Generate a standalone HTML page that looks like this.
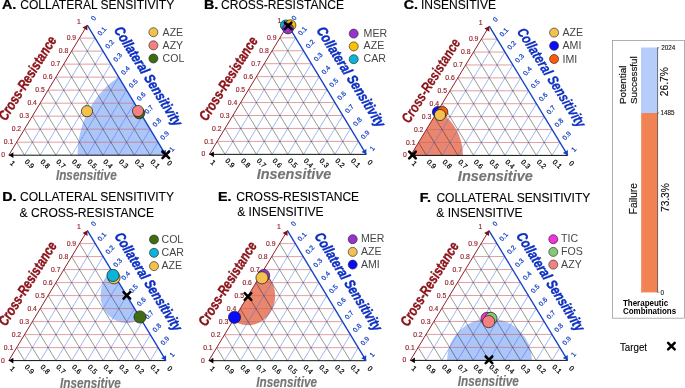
<!DOCTYPE html>
<html lang="en">
<head>
<meta charset="utf-8">
<title>Therapeutic combinations ternary plots</title>
<style>
html,body{margin:0;padding:0;background:#fff;}
body{width:685px;height:388px;overflow:hidden;}
svg{display:block;font-family:'Liberation Sans', Arial, Helvetica, sans-serif;}
</style>
</head>
<body>
<svg width="685" height="388" viewBox="0 0 685 388">
<rect x="0" y="0" width="685" height="388" fill="#ffffff"/>
<g id="panel-A">
<clipPath id="clip0"><path d="M8.8 155.2L87.3 25.1L165.8 155.2Z"/></clipPath>
<ellipse cx="165.8" cy="155.2" rx="88.3" ry="92.5" fill="#acc6fa" clip-path="url(#clip0)"/>
<path d="M16.65 142.19L157.95 142.19M24.5 129.18L150.1 129.18M32.35 116.17L142.25 116.17M40.2 103.16L134.4 103.16M48.05 90.15L126.55 90.15M55.9 77.14L118.7 77.14M63.75 64.13L110.85 64.13M71.6 51.12L103 51.12M79.45 38.11L95.15 38.11" stroke="#c76666" stroke-width="0.62" fill="none"/>
<path d="M24.5 155.2L95.15 38.11M40.2 155.2L103 51.12M55.9 155.2L110.85 64.13M71.6 155.2L118.7 77.14M87.3 155.2L126.55 90.15M103 155.2L134.4 103.16M118.7 155.2L142.25 116.17M134.4 155.2L150.1 129.18M150.1 155.2L157.95 142.19" stroke="#4a74e4" stroke-width="0.52" fill="none"/>
<path d="M150.1 155.2L79.45 38.11M134.4 155.2L71.6 51.12M118.7 155.2L63.75 64.13M103 155.2L55.9 77.14M87.3 155.2L48.05 90.15M71.6 155.2L40.2 103.16M55.9 155.2L32.35 116.17M40.2 155.2L24.5 129.18M24.5 155.2L16.65 142.19" stroke="#1e1e1e" stroke-width="0.46" fill="none"/>
<path d="M8.8 155.2L165.8 155.2" stroke="#000" stroke-width="0.95" fill="none"/>
<path d="M8.8 155.2L87.3 25.1" stroke="#96202a" stroke-width="1.0" fill="none"/>
<path d="M87.3 25.1L165.8 155.2" stroke="#1440c8" stroke-width="1.35" fill="none"/>
<path d="M8.8 155.2L13.4 152.3L13.4 158.1Z" fill="#000"/>
<path d="M87.3 25.1L87.41 30.54L82.44 27.54Z" fill="#7d0f14"/>
<path d="M165.8 155.2L160.94 152.76L165.91 149.76Z" fill="#1440c8"/>
<g font-size="6.5" fill="#96202a" stroke="#96202a" stroke-width="0.15" text-anchor="end"><text transform="translate(4.9 157.1) scale(1.0451 1)">0</text><text transform="translate(13.25 144.49) scale(1.0451 1)">0.1</text><text transform="translate(21.1 131.48) scale(1.0451 1)">0.2</text><text transform="translate(28.95 118.47) scale(1.0451 1)">0.3</text><text transform="translate(36.8 105.46) scale(1.0451 1)">0.4</text><text transform="translate(44.65 92.45) scale(1.0451 1)">0.5</text><text transform="translate(52.5 79.44) scale(1.0451 1)">0.6</text><text transform="translate(60.35 66.43) scale(1.0451 1)">0.7</text><text transform="translate(68.2 53.42) scale(1.0451 1)">0.8</text><text transform="translate(76.05 40.41) scale(1.0451 1)">0.9</text><text transform="translate(80.7 23.5) scale(1.0451 1)">1</text></g>
<g font-size="6.5" fill="#1440c8" stroke="#1440c8" stroke-width="0.22"><text transform="translate(93.9 21.1) scale(1.0451 1) rotate(-48)">0</text><text transform="translate(100.45 36.11) scale(1.0451 1) rotate(-48)">0.1</text><text transform="translate(108.3 49.12) scale(1.0451 1) rotate(-48)">0.2</text><text transform="translate(116.15 62.13) scale(1.0451 1) rotate(-48)">0.3</text><text transform="translate(124 75.14) scale(1.0451 1) rotate(-48)">0.4</text><text transform="translate(131.85 88.15) scale(1.0451 1) rotate(-48)">0.5</text><text transform="translate(139.7 101.16) scale(1.0451 1) rotate(-48)">0.6</text><text transform="translate(147.55 114.17) scale(1.0451 1) rotate(-48)">0.7</text><text transform="translate(155.4 127.18) scale(1.0451 1) rotate(-48)">0.8</text><text transform="translate(163.25 140.19) scale(1.0451 1) rotate(-48)">0.9</text><text transform="translate(172.2 152) scale(1.0451 1) rotate(-48)">1</text></g>
<g font-size="6.9" fill="#000" stroke="#000" stroke-width="0.2"><text transform="translate(166.6 163.6) scale(1.0451 1) rotate(45) skewX(2)">0</text><text transform="translate(149.9 162.2) scale(1.0451 1) rotate(45) skewX(2)">0.1</text><text transform="translate(134.2 162.2) scale(1.0451 1) rotate(45) skewX(2)">0.2</text><text transform="translate(118.5 162.2) scale(1.0451 1) rotate(45) skewX(2)">0.3</text><text transform="translate(102.8 162.2) scale(1.0451 1) rotate(45) skewX(2)">0.4</text><text transform="translate(87.1 162.2) scale(1.0451 1) rotate(45) skewX(2)">0.5</text><text transform="translate(71.4 162.2) scale(1.0451 1) rotate(45) skewX(2)">0.6</text><text transform="translate(55.7 162.2) scale(1.0451 1) rotate(45) skewX(2)">0.7</text><text transform="translate(40 162.2) scale(1.0451 1) rotate(45) skewX(2)">0.8</text><text transform="translate(24.3 162.2) scale(1.0451 1) rotate(45) skewX(2)">0.9</text><text transform="translate(9.4 163.8) scale(1.0451 1) rotate(45) skewX(2)">1</text></g>
<text transform="translate(31.55 80.65) scale(1.0451 1) rotate(-59) scale(0.805 1)" text-anchor="middle" font-size="14.0" font-weight="bold" font-style="italic" fill="#8a1218" stroke="#8a1218" stroke-width="0.4">Cross-Resistance</text>
<text transform="translate(144.05 78.65) scale(1.0451 1) rotate(59) scale(0.825 1)" text-anchor="middle" font-size="14.0" font-weight="bold" font-style="italic" fill="#0c2fc0" stroke="#0c2fc0" stroke-width="0.4">Collateral Sensitivity</text>
<text transform="translate(86.3 179.7) scale(1.0451 1) scale(0.805 1)" text-anchor="middle" font-size="14.0" font-weight="bold" font-style="italic" fill="#757575" stroke="#757575" stroke-width="0.15">Insensitive</text>
<circle cx="139.2" cy="113.2" r="5.6" fill="#3f6b12" stroke="#1c1c1c" stroke-width="0.7"/>
<circle cx="138" cy="111" r="5.6" fill="#f48080" stroke="#1c1c1c" stroke-width="0.7"/>
<circle cx="87" cy="111.2" r="5.6" fill="#f2c14e" stroke="#1c1c1c" stroke-width="0.7"/>
<path d="M162.5 151.5L169.1 158.1M162.5 158.1L169.1 151.5" stroke="#000" stroke-width="2.6" stroke-linecap="round" fill="none"/>
<circle cx="153.4" cy="32.2" r="4.5" fill="#f2c14e" stroke="#2a2a2a" stroke-width="0.65"/>
<text transform="translate(162.6 35.8) scale(1.0451 1)" font-size="10.1" fill="#454545">AZE</text>
<circle cx="153.4" cy="45.35" r="4.5" fill="#f48080" stroke="#2a2a2a" stroke-width="0.65"/>
<text transform="translate(162.6 48.95) scale(1.0451 1)" font-size="10.1" fill="#454545">AZY</text>
<circle cx="153.4" cy="58.5" r="4.5" fill="#3f6b12" stroke="#2a2a2a" stroke-width="0.65"/>
<text transform="translate(162.6 62.1) scale(1.0451 1)" font-size="10.1" fill="#454545">COL</text>
<text transform="translate(2 9.3) scale(1.2 1)" font-size="11.9" fill="#000" stroke="#000" stroke-width="0.25" font-weight="bold">A.</text>
<text x="20.2" y="9.3" font-size="12.05" fill="#000" stroke="#000" stroke-width="0.1">COLLATERAL SENSITIVITY</text>
</g>
<g id="panel-B">
<path d="M217.15 141.4L358.45 141.4M225 128.45L350.6 128.45M232.85 115.5L342.75 115.5M240.7 102.55L334.9 102.55M248.55 89.6L327.05 89.6M256.4 76.65L319.2 76.65M264.25 63.7L311.35 63.7M272.1 50.75L303.5 50.75M279.95 37.8L295.65 37.8" stroke="#c76666" stroke-width="0.62" fill="none"/>
<path d="M225 154.35L295.65 37.8M240.7 154.35L303.5 50.75M256.4 154.35L311.35 63.7M272.1 154.35L319.2 76.65M287.8 154.35L327.05 89.6M303.5 154.35L334.9 102.55M319.2 154.35L342.75 115.5M334.9 154.35L350.6 128.45M350.6 154.35L358.45 141.4" stroke="#4a74e4" stroke-width="0.52" fill="none"/>
<path d="M350.6 154.35L279.95 37.8M334.9 154.35L272.1 50.75M319.2 154.35L264.25 63.7M303.5 154.35L256.4 76.65M287.8 154.35L248.55 89.6M272.1 154.35L240.7 102.55M256.4 154.35L232.85 115.5M240.7 154.35L225 128.45M225 154.35L217.15 141.4" stroke="#1e1e1e" stroke-width="0.46" fill="none"/>
<path d="M209.3 154.35L366.3 154.35" stroke="#000" stroke-width="0.95" fill="none"/>
<path d="M209.3 154.35L287.8 24.85" stroke="#96202a" stroke-width="1.0" fill="none"/>
<path d="M287.8 24.85L366.3 154.35" stroke="#1440c8" stroke-width="1.35" fill="none"/>
<path d="M209.3 154.35L213.9 151.45L213.9 157.25Z" fill="#000"/>
<path d="M287.8 24.85L287.9 30.29L282.94 27.28Z" fill="#7d0f14"/>
<path d="M366.3 154.35L361.44 151.92L366.4 148.91Z" fill="#1440c8"/>
<g font-size="6.5" fill="#96202a" stroke="#96202a" stroke-width="0.15" text-anchor="end"><text transform="translate(205.4 156.25) scale(1.0499 1)">0</text><text transform="translate(213.75 143.7) scale(1.0499 1)">0.1</text><text transform="translate(221.6 130.75) scale(1.0499 1)">0.2</text><text transform="translate(229.45 117.8) scale(1.0499 1)">0.3</text><text transform="translate(237.3 104.85) scale(1.0499 1)">0.4</text><text transform="translate(245.15 91.9) scale(1.0499 1)">0.5</text><text transform="translate(253 78.95) scale(1.0499 1)">0.6</text><text transform="translate(260.85 66) scale(1.0499 1)">0.7</text><text transform="translate(268.7 53.05) scale(1.0499 1)">0.8</text><text transform="translate(276.55 40.1) scale(1.0499 1)">0.9</text><text transform="translate(281.2 23.25) scale(1.0499 1)">1</text></g>
<g font-size="6.5" fill="#1440c8" stroke="#1440c8" stroke-width="0.22"><text transform="translate(294.4 20.85) scale(1.0499 1) rotate(-48)">0</text><text transform="translate(300.95 35.8) scale(1.0499 1) rotate(-48)">0.1</text><text transform="translate(308.8 48.75) scale(1.0499 1) rotate(-48)">0.2</text><text transform="translate(316.65 61.7) scale(1.0499 1) rotate(-48)">0.3</text><text transform="translate(324.5 74.65) scale(1.0499 1) rotate(-48)">0.4</text><text transform="translate(332.35 87.6) scale(1.0499 1) rotate(-48)">0.5</text><text transform="translate(340.2 100.55) scale(1.0499 1) rotate(-48)">0.6</text><text transform="translate(348.05 113.5) scale(1.0499 1) rotate(-48)">0.7</text><text transform="translate(355.9 126.45) scale(1.0499 1) rotate(-48)">0.8</text><text transform="translate(363.75 139.4) scale(1.0499 1) rotate(-48)">0.9</text><text transform="translate(372.7 151.15) scale(1.0499 1) rotate(-48)">1</text></g>
<g font-size="6.9" fill="#000" stroke="#000" stroke-width="0.2"><text transform="translate(367.1 162.75) scale(1.0499 1) rotate(45) skewX(2)">0</text><text transform="translate(350.4 161.35) scale(1.0499 1) rotate(45) skewX(2)">0.1</text><text transform="translate(334.7 161.35) scale(1.0499 1) rotate(45) skewX(2)">0.2</text><text transform="translate(319 161.35) scale(1.0499 1) rotate(45) skewX(2)">0.3</text><text transform="translate(303.3 161.35) scale(1.0499 1) rotate(45) skewX(2)">0.4</text><text transform="translate(287.6 161.35) scale(1.0499 1) rotate(45) skewX(2)">0.5</text><text transform="translate(271.9 161.35) scale(1.0499 1) rotate(45) skewX(2)">0.6</text><text transform="translate(256.2 161.35) scale(1.0499 1) rotate(45) skewX(2)">0.7</text><text transform="translate(240.5 161.35) scale(1.0499 1) rotate(45) skewX(2)">0.8</text><text transform="translate(224.8 161.35) scale(1.0499 1) rotate(45) skewX(2)">0.9</text><text transform="translate(209.9 162.95) scale(1.0499 1) rotate(45) skewX(2)">1</text></g>
<text transform="translate(232.55 81.1) scale(1.0499 1) rotate(-59) scale(0.805 1)" text-anchor="middle" font-size="14.0" font-weight="bold" font-style="italic" fill="#8a1218" stroke="#8a1218" stroke-width="0.4">Cross-Resistance</text>
<text transform="translate(346.75 79.3) scale(1.0499 1) rotate(59) scale(0.83 1)" text-anchor="middle" font-size="14.0" font-weight="bold" font-style="italic" fill="#0c2fc0" stroke="#0c2fc0" stroke-width="0.4">Collateral Sensitivity</text>
<text transform="translate(294 179.45) scale(1.0499 1) scale(0.95 1)" text-anchor="middle" font-size="14.5" font-weight="bold" font-style="italic" fill="#757575" stroke="#757575" stroke-width="0.15">Insensitive</text>
<circle cx="285.8" cy="25.4" r="5.4" fill="#0ab4d8" stroke="#1c1c1c" stroke-width="0.7"/>
<circle cx="290.5" cy="25.2" r="5.4" fill="#ffc000" stroke="#1c1c1c" stroke-width="0.7"/>
<circle cx="288" cy="28.5" r="5.4" fill="#9932cc" stroke="#1c1c1c" stroke-width="0.7"/>
<path d="M284.8 22.6L291.4 29.2M284.8 29.2L291.4 22.6" stroke="#000" stroke-width="2.6" stroke-linecap="round" fill="none"/>
<circle cx="353.7" cy="33.6" r="4.5" fill="#9932cc" stroke="#2a2a2a" stroke-width="0.65"/>
<text transform="translate(363.6 36.6) scale(1.0499 1)" font-size="10.1" fill="#454545">MER</text>
<circle cx="353.7" cy="46.4" r="4.5" fill="#ffc000" stroke="#2a2a2a" stroke-width="0.65"/>
<text transform="translate(363.6 49.4) scale(1.0499 1)" font-size="10.1" fill="#454545">AZE</text>
<circle cx="353.7" cy="59.2" r="4.5" fill="#0ab4d8" stroke="#2a2a2a" stroke-width="0.65"/>
<text transform="translate(363.6 62.2) scale(1.0499 1)" font-size="10.1" fill="#454545">CAR</text>
<text transform="translate(204 9.3) scale(1.2 1)" font-size="11.9" fill="#000" stroke="#000" stroke-width="0.25" font-weight="bold">B.</text>
<text x="221" y="9.3" font-size="12.05" fill="#000" stroke="#000" stroke-width="0.1">CROSS-RESISTANCE</text>
</g>
<g id="panel-C">
<clipPath id="clip2"><path d="M410.7 155.4L489.25 26.2L567.8 155.4Z"/></clipPath>
<ellipse cx="411.3" cy="155.4" rx="51.6" ry="52.5" fill="#ea866e" clip-path="url(#clip2)"/>
<path d="M418.56 142.48L559.94 142.48M426.41 129.56L552.09 129.56M434.26 116.64L544.24 116.64M442.12 103.72L536.38 103.72M449.97 90.8L528.52 90.8M457.83 77.88L520.67 77.88M465.69 64.96L512.81 64.96M473.54 52.04L504.96 52.04M481.39 39.12L497.11 39.12" stroke="#c76666" stroke-width="0.62" fill="none"/>
<path d="M426.41 155.4L497.11 39.12M442.12 155.4L504.96 52.04M457.83 155.4L512.81 64.96M473.54 155.4L520.67 77.88M489.25 155.4L528.52 90.8M504.96 155.4L536.38 103.72M520.67 155.4L544.24 116.64M536.38 155.4L552.09 129.56M552.09 155.4L559.94 142.48" stroke="#4a74e4" stroke-width="0.52" fill="none"/>
<path d="M552.09 155.4L481.39 39.12M536.38 155.4L473.54 52.04M520.67 155.4L465.69 64.96M504.96 155.4L457.83 77.88M489.25 155.4L449.97 90.8M473.54 155.4L442.12 103.72M457.83 155.4L434.26 116.64M442.12 155.4L426.41 129.56M426.41 155.4L418.56 142.48" stroke="#1e1e1e" stroke-width="0.46" fill="none"/>
<path d="M410.7 155.4L567.8 155.4" stroke="#000" stroke-width="0.95" fill="none"/>
<path d="M410.7 155.4L489.25 26.2" stroke="#96202a" stroke-width="1.0" fill="none"/>
<path d="M489.25 26.2L567.8 155.4" stroke="#1440c8" stroke-width="1.35" fill="none"/>
<path d="M410.7 155.4L415.3 152.5L415.3 158.3Z" fill="#000"/>
<path d="M489.25 26.2L489.34 31.64L484.38 28.62Z" fill="#7d0f14"/>
<path d="M567.8 155.4L562.93 152.98L567.89 149.96Z" fill="#1440c8"/>
<g font-size="6.5" fill="#96202a" stroke="#96202a" stroke-width="0.15" text-anchor="end"><text transform="translate(406.8 157.3) scale(1.0530 1)">0</text><text transform="translate(415.56 144.78) scale(1.0530 1)">0.1</text><text transform="translate(423.41 131.86) scale(1.0530 1)">0.2</text><text transform="translate(431.26 118.94) scale(1.0530 1)">0.3</text><text transform="translate(439.12 106.02) scale(1.0530 1)">0.4</text><text transform="translate(446.97 93.1) scale(1.0530 1)">0.5</text><text transform="translate(454.83 80.18) scale(1.0530 1)">0.6</text><text transform="translate(462.69 67.26) scale(1.0530 1)">0.7</text><text transform="translate(470.54 54.34) scale(1.0530 1)">0.8</text><text transform="translate(478.39 41.42) scale(1.0530 1)">0.9</text><text transform="translate(482.65 24.6) scale(1.0530 1)">1</text></g>
<g font-size="6.5" fill="#1440c8" stroke="#1440c8" stroke-width="0.22"><text transform="translate(495.85 22.2) scale(1.0530 1) rotate(-48)">0</text><text transform="translate(502.41 37.12) scale(1.0530 1) rotate(-48)">0.1</text><text transform="translate(510.26 50.04) scale(1.0530 1) rotate(-48)">0.2</text><text transform="translate(518.11 62.96) scale(1.0530 1) rotate(-48)">0.3</text><text transform="translate(525.97 75.88) scale(1.0530 1) rotate(-48)">0.4</text><text transform="translate(533.82 88.8) scale(1.0530 1) rotate(-48)">0.5</text><text transform="translate(541.68 101.72) scale(1.0530 1) rotate(-48)">0.6</text><text transform="translate(549.53 114.64) scale(1.0530 1) rotate(-48)">0.7</text><text transform="translate(557.39 127.56) scale(1.0530 1) rotate(-48)">0.8</text><text transform="translate(565.24 140.48) scale(1.0530 1) rotate(-48)">0.9</text><text transform="translate(574.2 152.2) scale(1.0530 1) rotate(-48)">1</text></g>
<g font-size="6.9" fill="#000" stroke="#000" stroke-width="0.2"><text transform="translate(568.6 163.8) scale(1.0530 1) rotate(45) skewX(2)">0</text><text transform="translate(551.89 162.4) scale(1.0530 1) rotate(45) skewX(2)">0.1</text><text transform="translate(536.18 162.4) scale(1.0530 1) rotate(45) skewX(2)">0.2</text><text transform="translate(520.47 162.4) scale(1.0530 1) rotate(45) skewX(2)">0.3</text><text transform="translate(504.76 162.4) scale(1.0530 1) rotate(45) skewX(2)">0.4</text><text transform="translate(489.05 162.4) scale(1.0530 1) rotate(45) skewX(2)">0.5</text><text transform="translate(473.34 162.4) scale(1.0530 1) rotate(45) skewX(2)">0.6</text><text transform="translate(457.63 162.4) scale(1.0530 1) rotate(45) skewX(2)">0.7</text><text transform="translate(441.92 162.4) scale(1.0530 1) rotate(45) skewX(2)">0.8</text><text transform="translate(426.21 162.4) scale(1.0530 1) rotate(45) skewX(2)">0.9</text><text transform="translate(411.3 164) scale(1.0530 1) rotate(45) skewX(2)">1</text></g>
<text transform="translate(435.17 83.1) scale(1.0530 1) rotate(-59) scale(0.805 1)" text-anchor="middle" font-size="14.0" font-weight="bold" font-style="italic" fill="#8a1218" stroke="#8a1218" stroke-width="0.25">Cross-Resistance</text>
<text transform="translate(547.32 80) scale(1.0530 1) rotate(59) scale(0.825 1)" text-anchor="middle" font-size="14.0" font-weight="bold" font-style="italic" fill="#0c2fc0" stroke="#0c2fc0" stroke-width="0.25">Collateral Sensitivity</text>
<text transform="translate(495.35 180.8) scale(1.0530 1) scale(0.95 1)" text-anchor="middle" font-size="14.5" font-weight="bold" font-style="italic" fill="#757575" stroke="#757575" stroke-width="0.15">Insensitive</text>
<circle cx="438" cy="112" r="5.6" fill="#0a0aff" stroke="#1c1c1c" stroke-width="0.7"/>
<circle cx="442.3" cy="112" r="5.6" fill="#ff5a0a" stroke="#1c1c1c" stroke-width="0.7"/>
<circle cx="440" cy="115" r="5.6" fill="#f2c14e" stroke="#1c1c1c" stroke-width="0.7"/>
<path d="M409.2 151.7L415.8 158.3M409.2 158.3L415.8 151.7" stroke="#000" stroke-width="2.6" stroke-linecap="round" fill="none"/>
<circle cx="554.1" cy="32.6" r="4.5" fill="#f2c14e" stroke="#2a2a2a" stroke-width="0.65"/>
<text transform="translate(562.5 36.2) scale(1.0530 1)" font-size="10.1" fill="#454545">AZE</text>
<circle cx="554.1" cy="45.8" r="4.5" fill="#0a0aff" stroke="#2a2a2a" stroke-width="0.65"/>
<text transform="translate(562.5 49.4) scale(1.0530 1)" font-size="10.1" fill="#454545">AMI</text>
<circle cx="554.1" cy="59" r="4.5" fill="#ff5a0a" stroke="#2a2a2a" stroke-width="0.65"/>
<text transform="translate(562.5 62.6) scale(1.0530 1)" font-size="10.1" fill="#454545">IMI</text>
<text transform="translate(403.8 9.3) scale(1.2 1)" font-size="11.9" fill="#000" stroke="#000" stroke-width="0.25" font-weight="bold">C.</text>
<text x="421" y="9.3" font-size="12.05" fill="#000" stroke="#000" stroke-width="0.1">INSENSITIVE</text>
</g>
<g id="panel-D">
<clipPath id="clip3"><path d="M8.8 360.6L87.4 230.6L166 360.6Z"/></clipPath>
<ellipse cx="126.85" cy="295.4" rx="26.4" ry="27.8" fill="#acc6fa" clip-path="url(#clip3)"/>
<path d="M16.66 347.6L158.14 347.6M24.52 334.6L150.28 334.6M32.38 321.6L142.42 321.6M40.24 308.6L134.56 308.6M48.1 295.6L126.7 295.6M55.96 282.6L118.84 282.6M63.82 269.6L110.98 269.6M71.68 256.6L103.12 256.6M79.54 243.6L95.26 243.6" stroke="#c76666" stroke-width="0.62" fill="none"/>
<path d="M24.52 360.6L95.26 243.6M40.24 360.6L103.12 256.6M55.96 360.6L110.98 269.6M71.68 360.6L118.84 282.6M87.4 360.6L126.7 295.6M103.12 360.6L134.56 308.6M118.84 360.6L142.42 321.6M134.56 360.6L150.28 334.6M150.28 360.6L158.14 347.6" stroke="#4a74e4" stroke-width="0.52" fill="none"/>
<path d="M150.28 360.6L79.54 243.6M134.56 360.6L71.68 256.6M118.84 360.6L63.82 269.6M103.12 360.6L55.96 282.6M87.4 360.6L48.1 295.6M71.68 360.6L40.24 308.6M55.96 360.6L32.38 321.6M40.24 360.6L24.52 334.6M24.52 360.6L16.66 347.6" stroke="#1e1e1e" stroke-width="0.46" fill="none"/>
<path d="M8.8 360.6L166 360.6" stroke="#000" stroke-width="0.95" fill="none"/>
<path d="M8.8 360.6L87.4 230.6" stroke="#96202a" stroke-width="1.0" fill="none"/>
<path d="M87.4 230.6L166 360.6" stroke="#1440c8" stroke-width="1.35" fill="none"/>
<path d="M8.8 360.6L13.4 357.7L13.4 363.5Z" fill="#000"/>
<path d="M87.4 230.6L87.5 236.04L82.54 233.04Z" fill="#7d0f14"/>
<path d="M166 360.6L161.14 358.16L166.1 355.16Z" fill="#1440c8"/>
<g font-size="6.5" fill="#96202a" stroke="#96202a" stroke-width="0.15" text-anchor="end"><text transform="translate(4.9 362.5) scale(1.0472 1)">0</text><text transform="translate(13.26 349.9) scale(1.0472 1)">0.1</text><text transform="translate(21.12 336.9) scale(1.0472 1)">0.2</text><text transform="translate(28.98 323.9) scale(1.0472 1)">0.3</text><text transform="translate(36.84 310.9) scale(1.0472 1)">0.4</text><text transform="translate(44.7 297.9) scale(1.0472 1)">0.5</text><text transform="translate(52.56 284.9) scale(1.0472 1)">0.6</text><text transform="translate(60.42 271.9) scale(1.0472 1)">0.7</text><text transform="translate(68.28 258.9) scale(1.0472 1)">0.8</text><text transform="translate(76.14 245.9) scale(1.0472 1)">0.9</text><text transform="translate(80.8 229) scale(1.0472 1)">1</text></g>
<g font-size="6.5" fill="#1440c8" stroke="#1440c8" stroke-width="0.22"><text transform="translate(94 226.6) scale(1.0472 1) rotate(-48)">0</text><text transform="translate(100.56 241.6) scale(1.0472 1) rotate(-48)">0.1</text><text transform="translate(108.42 254.6) scale(1.0472 1) rotate(-48)">0.2</text><text transform="translate(116.28 267.6) scale(1.0472 1) rotate(-48)">0.3</text><text transform="translate(124.14 280.6) scale(1.0472 1) rotate(-48)">0.4</text><text transform="translate(132 293.6) scale(1.0472 1) rotate(-48)">0.5</text><text transform="translate(139.86 306.6) scale(1.0472 1) rotate(-48)">0.6</text><text transform="translate(147.72 319.6) scale(1.0472 1) rotate(-48)">0.7</text><text transform="translate(155.58 332.6) scale(1.0472 1) rotate(-48)">0.8</text><text transform="translate(163.44 345.6) scale(1.0472 1) rotate(-48)">0.9</text><text transform="translate(172.4 357.4) scale(1.0472 1) rotate(-48)">1</text></g>
<g font-size="6.9" fill="#000" stroke="#000" stroke-width="0.2"><text transform="translate(166.8 369) scale(1.0472 1) rotate(45) skewX(2)">0</text><text transform="translate(150.08 367.6) scale(1.0472 1) rotate(45) skewX(2)">0.1</text><text transform="translate(134.36 367.6) scale(1.0472 1) rotate(45) skewX(2)">0.2</text><text transform="translate(118.64 367.6) scale(1.0472 1) rotate(45) skewX(2)">0.3</text><text transform="translate(102.92 367.6) scale(1.0472 1) rotate(45) skewX(2)">0.4</text><text transform="translate(87.2 367.6) scale(1.0472 1) rotate(45) skewX(2)">0.5</text><text transform="translate(71.48 367.6) scale(1.0472 1) rotate(45) skewX(2)">0.6</text><text transform="translate(55.76 367.6) scale(1.0472 1) rotate(45) skewX(2)">0.7</text><text transform="translate(40.04 367.6) scale(1.0472 1) rotate(45) skewX(2)">0.8</text><text transform="translate(24.32 367.6) scale(1.0472 1) rotate(45) skewX(2)">0.9</text><text transform="translate(9.4 369.2) scale(1.0472 1) rotate(45) skewX(2)">1</text></g>
<text transform="translate(31.6 286.1) scale(1.0472 1) rotate(-59) scale(0.805 1)" text-anchor="middle" font-size="14.0" font-weight="bold" font-style="italic" fill="#8a1218" stroke="#8a1218" stroke-width="0.4">Cross-Resistance</text>
<text transform="translate(144.2 284.1) scale(1.0472 1) rotate(59) scale(0.815 1)" text-anchor="middle" font-size="14.0" font-weight="bold" font-style="italic" fill="#0c2fc0" stroke="#0c2fc0" stroke-width="0.4">Collateral Sensitivity</text>
<text transform="translate(90.4 388.4) scale(1.0472 1) scale(0.805 1)" text-anchor="middle" font-size="14.0" font-weight="bold" font-style="italic" fill="#757575" stroke="#757575" stroke-width="0.15">Insensitive</text>
<circle cx="114" cy="277.8" r="6.1" fill="#f2c14e" stroke="#1c1c1c" stroke-width="0.7"/>
<circle cx="113" cy="275.4" r="6.1" fill="#0ab4d8" stroke="#1c1c1c" stroke-width="0.7"/>
<circle cx="140" cy="317" r="6.1" fill="#3f6b12" stroke="#1c1c1c" stroke-width="0.7"/>
<path d="M123.55 292.1L130.15 298.7M123.55 298.7L130.15 292.1" stroke="#000" stroke-width="2.6" stroke-linecap="round" fill="none"/>
<circle cx="154" cy="239.5" r="4.5" fill="#3f6b12" stroke="#2a2a2a" stroke-width="0.65"/>
<text transform="translate(161.5 242.8) scale(1.0472 1)" font-size="10.1" fill="#454545">COL</text>
<circle cx="154" cy="252.8" r="4.5" fill="#0ab4d8" stroke="#2a2a2a" stroke-width="0.65"/>
<text transform="translate(161.5 256.1) scale(1.0472 1)" font-size="10.1" fill="#454545">CAR</text>
<circle cx="154" cy="266.1" r="4.5" fill="#f2c14e" stroke="#2a2a2a" stroke-width="0.65"/>
<text transform="translate(161.5 269.4) scale(1.0472 1)" font-size="10.1" fill="#454545">AZE</text>
<text transform="translate(2.2 201.4) scale(1.2 1)" font-size="11.9" fill="#000" stroke="#000" stroke-width="0.25" font-weight="bold">D.</text>
<text x="20" y="201.4" font-size="12.05" fill="#000" stroke="#000" stroke-width="0.1">COLLATERAL SENSITIVITY</text>
<text x="19.6" y="217.1" font-size="12.05" fill="#000" stroke="#000" stroke-width="0.1">&amp; CROSS-RESISTANCE</text>
</g>
<g id="panel-E">
<clipPath id="clip4"><path d="M208.8 360.7L287.45 230.6L366.1 360.7Z"/></clipPath>
<ellipse cx="248" cy="296" rx="27.2" ry="29.2" fill="#ea866e" clip-path="url(#clip4)"/>
<path d="M216.67 347.69L358.24 347.69M224.53 334.68L350.37 334.68M232.4 321.67L342.5 321.67M240.26 308.66L334.64 308.66M248.12 295.65L326.78 295.65M255.99 282.64L318.91 282.64M263.86 269.63L311.05 269.63M271.72 256.62L303.18 256.62M279.59 243.61L295.32 243.61" stroke="#c76666" stroke-width="0.62" fill="none"/>
<path d="M224.53 360.7L295.32 243.61M240.26 360.7L303.18 256.62M255.99 360.7L311.05 269.63M271.72 360.7L318.91 282.64M287.45 360.7L326.78 295.65M303.18 360.7L334.64 308.66M318.91 360.7L342.5 321.67M334.64 360.7L350.37 334.68M350.37 360.7L358.24 347.69" stroke="#4a74e4" stroke-width="0.52" fill="none"/>
<path d="M350.37 360.7L279.59 243.61M334.64 360.7L271.72 256.62M318.91 360.7L263.86 269.63M303.18 360.7L255.99 282.64M287.45 360.7L248.12 295.65M271.72 360.7L240.26 308.66M255.99 360.7L232.4 321.67M240.26 360.7L224.53 334.68M224.53 360.7L216.67 347.69" stroke="#1e1e1e" stroke-width="0.46" fill="none"/>
<path d="M208.8 360.7L366.1 360.7" stroke="#000" stroke-width="0.95" fill="none"/>
<path d="M208.8 360.7L287.45 230.6" stroke="#96202a" stroke-width="1.0" fill="none"/>
<path d="M287.45 230.6L366.1 360.7" stroke="#1440c8" stroke-width="1.35" fill="none"/>
<path d="M208.8 360.7L213.4 357.8L213.4 363.6Z" fill="#000"/>
<path d="M287.45 230.6L287.55 236.04L282.59 233.04Z" fill="#7d0f14"/>
<path d="M366.1 360.7L361.24 358.26L366.2 355.26Z" fill="#1440c8"/>
<g font-size="6.5" fill="#96202a" stroke="#96202a" stroke-width="0.15" text-anchor="end"><text transform="translate(204.9 362.6) scale(1.0471 1)">0</text><text transform="translate(212.57 349.99) scale(1.0471 1)">0.1</text><text transform="translate(220.43 336.98) scale(1.0471 1)">0.2</text><text transform="translate(228.3 323.97) scale(1.0471 1)">0.3</text><text transform="translate(236.16 310.96) scale(1.0471 1)">0.4</text><text transform="translate(244.03 297.95) scale(1.0471 1)">0.5</text><text transform="translate(251.89 284.94) scale(1.0471 1)">0.6</text><text transform="translate(259.75 271.93) scale(1.0471 1)">0.7</text><text transform="translate(267.62 258.92) scale(1.0471 1)">0.8</text><text transform="translate(275.49 245.91) scale(1.0471 1)">0.9</text><text transform="translate(280.85 229) scale(1.0471 1)">1</text></g>
<g font-size="6.5" fill="#1440c8" stroke="#1440c8" stroke-width="0.22"><text transform="translate(294.05 226.6) scale(1.0471 1) rotate(-48)">0</text><text transform="translate(300.62 241.61) scale(1.0471 1) rotate(-48)">0.1</text><text transform="translate(308.48 254.62) scale(1.0471 1) rotate(-48)">0.2</text><text transform="translate(316.35 267.63) scale(1.0471 1) rotate(-48)">0.3</text><text transform="translate(324.21 280.64) scale(1.0471 1) rotate(-48)">0.4</text><text transform="translate(332.08 293.65) scale(1.0471 1) rotate(-48)">0.5</text><text transform="translate(339.94 306.66) scale(1.0471 1) rotate(-48)">0.6</text><text transform="translate(347.81 319.67) scale(1.0471 1) rotate(-48)">0.7</text><text transform="translate(355.67 332.68) scale(1.0471 1) rotate(-48)">0.8</text><text transform="translate(363.54 345.69) scale(1.0471 1) rotate(-48)">0.9</text><text transform="translate(372.5 357.5) scale(1.0471 1) rotate(-48)">1</text></g>
<g font-size="6.9" fill="#000" stroke="#000" stroke-width="0.2"><text transform="translate(366.9 369.1) scale(1.0471 1) rotate(45) skewX(2)">0</text><text transform="translate(350.17 367.7) scale(1.0471 1) rotate(45) skewX(2)">0.1</text><text transform="translate(334.44 367.7) scale(1.0471 1) rotate(45) skewX(2)">0.2</text><text transform="translate(318.71 367.7) scale(1.0471 1) rotate(45) skewX(2)">0.3</text><text transform="translate(302.98 367.7) scale(1.0471 1) rotate(45) skewX(2)">0.4</text><text transform="translate(287.25 367.7) scale(1.0471 1) rotate(45) skewX(2)">0.5</text><text transform="translate(271.52 367.7) scale(1.0471 1) rotate(45) skewX(2)">0.6</text><text transform="translate(255.79 367.7) scale(1.0471 1) rotate(45) skewX(2)">0.7</text><text transform="translate(240.06 367.7) scale(1.0471 1) rotate(45) skewX(2)">0.8</text><text transform="translate(224.33 367.7) scale(1.0471 1) rotate(45) skewX(2)">0.9</text><text transform="translate(209.4 369.3) scale(1.0471 1) rotate(45) skewX(2)">1</text></g>
<text transform="translate(231.62 286.15) scale(1.0471 1) rotate(-59) scale(0.805 1)" text-anchor="middle" font-size="14.0" font-weight="bold" font-style="italic" fill="#8a1218" stroke="#8a1218" stroke-width="0.4">Cross-Resistance</text>
<text transform="translate(344.28 284.15) scale(1.0471 1) rotate(59) scale(0.815 1)" text-anchor="middle" font-size="14.0" font-weight="bold" font-style="italic" fill="#0c2fc0" stroke="#0c2fc0" stroke-width="0.4">Collateral Sensitivity</text>
<text transform="translate(286.65 386.5) scale(1.0471 1) scale(0.805 1)" text-anchor="middle" font-size="14.0" font-weight="bold" font-style="italic" fill="#757575" stroke="#757575" stroke-width="0.15">Insensitive</text>
<circle cx="263.6" cy="275.5" r="6.1" fill="#9932cc" stroke="#1c1c1c" stroke-width="0.7"/>
<circle cx="262" cy="277.8" r="6.1" fill="#f2c14e" stroke="#1c1c1c" stroke-width="0.7"/>
<circle cx="234.5" cy="317.3" r="6.1" fill="#0a0aff" stroke="#1c1c1c" stroke-width="0.7"/>
<path d="M244.7 293.2L251.3 299.8M244.7 299.8L251.3 293.2" stroke="#000" stroke-width="2.6" stroke-linecap="round" fill="none"/>
<circle cx="352.7" cy="239.2" r="4.5" fill="#9932cc" stroke="#2a2a2a" stroke-width="0.65"/>
<text transform="translate(360.9 242.3) scale(1.0471 1)" font-size="10.1" fill="#454545">MER</text>
<circle cx="352.7" cy="251.9" r="4.5" fill="#f2c14e" stroke="#2a2a2a" stroke-width="0.65"/>
<text transform="translate(360.9 255) scale(1.0471 1)" font-size="10.1" fill="#454545">AZE</text>
<circle cx="352.7" cy="264.6" r="4.5" fill="#0a0aff" stroke="#2a2a2a" stroke-width="0.65"/>
<text transform="translate(360.9 267.7) scale(1.0471 1)" font-size="10.1" fill="#454545">AMI</text>
<text transform="translate(218 201.4) scale(1.2 1)" font-size="11.9" fill="#000" stroke="#000" stroke-width="0.25" font-weight="bold">E.</text>
<text x="236.2" y="201.4" font-size="12.05" fill="#000" stroke="#000" stroke-width="0.1">CROSS-RESISTANCE</text>
<text x="237.2" y="216.2" font-size="12.05" fill="#000" stroke="#000" stroke-width="0.1">&amp; INSENSITIVE</text>
</g>
<g id="panel-F">
<clipPath id="clip5"><path d="M410.3 360.4L489 230.6L567.7 360.4Z"/></clipPath>
<ellipse cx="489.5" cy="360.4" rx="42.5" ry="42" fill="#acc6fa" clip-path="url(#clip5)"/>
<path d="M418.17 347.42L559.83 347.42M426.04 334.44L551.96 334.44M433.91 321.46L544.09 321.46M441.78 308.48L536.22 308.48M449.65 295.5L528.35 295.5M457.52 282.52L520.48 282.52M465.39 269.54L512.61 269.54M473.26 256.56L504.74 256.56M481.13 243.58L496.87 243.58" stroke="#c76666" stroke-width="0.62" fill="none"/>
<path d="M426.04 360.4L496.87 243.58M441.78 360.4L504.74 256.56M457.52 360.4L512.61 269.54M473.26 360.4L520.48 282.52M489 360.4L528.35 295.5M504.74 360.4L536.22 308.48M520.48 360.4L544.09 321.46M536.22 360.4L551.96 334.44M551.96 360.4L559.83 347.42" stroke="#4a74e4" stroke-width="0.52" fill="none"/>
<path d="M551.96 360.4L481.13 243.58M536.22 360.4L473.26 256.56M520.48 360.4L465.39 269.54M504.74 360.4L457.52 282.52M489 360.4L449.65 295.5M473.26 360.4L441.78 308.48M457.52 360.4L433.91 321.46M441.78 360.4L426.04 334.44M426.04 360.4L418.17 347.42" stroke="#1e1e1e" stroke-width="0.46" fill="none"/>
<path d="M410.3 360.4L567.7 360.4" stroke="#000" stroke-width="0.95" fill="none"/>
<path d="M410.3 360.4L489 230.6" stroke="#96202a" stroke-width="1.0" fill="none"/>
<path d="M489 230.6L567.7 360.4" stroke="#1440c8" stroke-width="1.35" fill="none"/>
<path d="M410.3 360.4L414.9 357.5L414.9 363.3Z" fill="#000"/>
<path d="M489 230.6L489.09 236.04L484.14 233.03Z" fill="#7d0f14"/>
<path d="M567.7 360.4L562.84 357.97L567.79 354.96Z" fill="#1440c8"/>
<g font-size="6.5" fill="#96202a" stroke="#96202a" stroke-width="0.15" text-anchor="end"><text transform="translate(406.4 362.3) scale(1.0502 1)">0</text><text transform="translate(414.77 349.72) scale(1.0502 1)">0.1</text><text transform="translate(422.64 336.74) scale(1.0502 1)">0.2</text><text transform="translate(430.51 323.76) scale(1.0502 1)">0.3</text><text transform="translate(438.38 310.78) scale(1.0502 1)">0.4</text><text transform="translate(446.25 297.8) scale(1.0502 1)">0.5</text><text transform="translate(454.12 284.82) scale(1.0502 1)">0.6</text><text transform="translate(461.99 271.84) scale(1.0502 1)">0.7</text><text transform="translate(469.86 258.86) scale(1.0502 1)">0.8</text><text transform="translate(477.73 245.88) scale(1.0502 1)">0.9</text><text transform="translate(482.4 229) scale(1.0502 1)">1</text></g>
<g font-size="6.5" fill="#1440c8" stroke="#1440c8" stroke-width="0.22"><text transform="translate(495.6 226.6) scale(1.0502 1) rotate(-48)">0</text><text transform="translate(502.17 241.58) scale(1.0502 1) rotate(-48)">0.1</text><text transform="translate(510.04 254.56) scale(1.0502 1) rotate(-48)">0.2</text><text transform="translate(517.91 267.54) scale(1.0502 1) rotate(-48)">0.3</text><text transform="translate(525.78 280.52) scale(1.0502 1) rotate(-48)">0.4</text><text transform="translate(533.65 293.5) scale(1.0502 1) rotate(-48)">0.5</text><text transform="translate(541.52 306.48) scale(1.0502 1) rotate(-48)">0.6</text><text transform="translate(549.39 319.46) scale(1.0502 1) rotate(-48)">0.7</text><text transform="translate(557.26 332.44) scale(1.0502 1) rotate(-48)">0.8</text><text transform="translate(565.13 345.42) scale(1.0502 1) rotate(-48)">0.9</text><text transform="translate(574.1 357.2) scale(1.0502 1) rotate(-48)">1</text></g>
<g font-size="6.9" fill="#000" stroke="#000" stroke-width="0.2"><text transform="translate(568.5 368.8) scale(1.0502 1) rotate(45) skewX(2)">0</text><text transform="translate(551.76 367.4) scale(1.0502 1) rotate(45) skewX(2)">0.1</text><text transform="translate(536.02 367.4) scale(1.0502 1) rotate(45) skewX(2)">0.2</text><text transform="translate(520.28 367.4) scale(1.0502 1) rotate(45) skewX(2)">0.3</text><text transform="translate(504.54 367.4) scale(1.0502 1) rotate(45) skewX(2)">0.4</text><text transform="translate(488.8 367.4) scale(1.0502 1) rotate(45) skewX(2)">0.5</text><text transform="translate(473.06 367.4) scale(1.0502 1) rotate(45) skewX(2)">0.6</text><text transform="translate(457.32 367.4) scale(1.0502 1) rotate(45) skewX(2)">0.7</text><text transform="translate(441.58 367.4) scale(1.0502 1) rotate(45) skewX(2)">0.8</text><text transform="translate(425.84 367.4) scale(1.0502 1) rotate(45) skewX(2)">0.9</text><text transform="translate(410.9 369) scale(1.0502 1) rotate(45) skewX(2)">1</text></g>
<text transform="translate(433.75 286.5) scale(1.0502 1) rotate(-59) scale(0.805 1)" text-anchor="middle" font-size="14.0" font-weight="bold" font-style="italic" fill="#8a1218" stroke="#8a1218" stroke-width="0.4">Cross-Resistance</text>
<text transform="translate(546.35 284.2) scale(1.0502 1) rotate(59) scale(0.82 1)" text-anchor="middle" font-size="14.0" font-weight="bold" font-style="italic" fill="#0c2fc0" stroke="#0c2fc0" stroke-width="0.4">Collateral Sensitivity</text>
<text transform="translate(488.3 386.1) scale(1.0502 1) scale(0.805 1)" text-anchor="middle" font-size="14.0" font-weight="bold" font-style="italic" fill="#757575" stroke="#757575" stroke-width="0.15">Insensitive</text>
<circle cx="487.1" cy="318.4" r="6.1" fill="#f531dc" stroke="#1c1c1c" stroke-width="0.7"/>
<circle cx="490.9" cy="318.4" r="6.1" fill="#86c873" stroke="#1c1c1c" stroke-width="0.7"/>
<circle cx="488.7" cy="321.6" r="6.1" fill="#f48080" stroke="#1c1c1c" stroke-width="0.7"/>
<path d="M485.7 356.5L492.3 363.1M485.7 363.1L492.3 356.5" stroke="#000" stroke-width="2.6" stroke-linecap="round" fill="none"/>
<circle cx="553.3" cy="239.2" r="4.5" fill="#f531dc" stroke="#2a2a2a" stroke-width="0.65"/>
<text transform="translate(561.1 242.3) scale(1.0502 1)" font-size="10.1" fill="#454545">TIC</text>
<circle cx="553.3" cy="251.9" r="4.5" fill="#86c873" stroke="#2a2a2a" stroke-width="0.65"/>
<text transform="translate(561.1 255) scale(1.0502 1)" font-size="10.1" fill="#454545">FOS</text>
<circle cx="553.3" cy="264.6" r="4.5" fill="#f48080" stroke="#2a2a2a" stroke-width="0.65"/>
<text transform="translate(561.1 267.7) scale(1.0502 1)" font-size="10.1" fill="#454545">AZY</text>
<text transform="translate(419.8 201.8) scale(1.2 1)" font-size="11.9" fill="#000" stroke="#000" stroke-width="0.25" font-weight="bold">F.</text>
<text x="436.4" y="201.8" font-size="12.05" fill="#000" stroke="#000" stroke-width="0.1">COLLATERAL SENSITIVITY</text>
<text x="436.3" y="217.1" font-size="12.05" fill="#000" stroke="#000" stroke-width="0.1">&amp; INSENSITIVE</text>
</g>
<g id="sidebar">
<rect x="612.5" y="40.5" width="72.1" height="277.7" fill="#fff" stroke="#9c9c9c" stroke-width="0.8"/>
<rect x="641" y="47.5" width="16.7" height="65.5" fill="#b6cdfb"/>
<rect x="641" y="113" width="16.7" height="179.4" fill="#f08253"/>
<rect x="641" y="113" width="1.2" height="179.4" fill="#f4976f"/>
<path d="M657.6 47.5V292.4" stroke="#3c3c3c" stroke-width="0.7" fill="none"/>
<path d="M657.6 47.8h1.7M657.6 113h1.7M657.6 292.2h1.7" stroke="#222" stroke-width="0.5" fill="none"/>
<g font-size="6.3" fill="#111" stroke="#111" stroke-width="0.1">
<text x="661.2" y="50.4">2024</text>
<text x="660.6" y="115.3">1485</text>
<text x="660.5" y="294.6">0</text>
</g>
<g font-size="9.9" fill="#111" stroke="#111" stroke-width="0.2">
<text transform="translate(626.4 104) rotate(-90)">Potential</text>
<text transform="translate(636.6 104) rotate(-90)">Successful</text>
</g>
<g font-size="10.2" fill="#111" stroke="#111" stroke-width="0.15" text-anchor="middle">
<text transform="translate(668.3 81.7) rotate(-90)">26.7%</text>
<text transform="translate(636.9 198.7) rotate(-90)">Failure</text>
<text transform="translate(668.6 197.6) rotate(-90)">73.3%</text>
</g>
<g font-size="8.25" font-weight="bold" fill="#000">
<text transform="translate(622.9 305.6) scale(0.97 1)">Therapeutic</text>
<text transform="translate(622.9 314.1) scale(0.97 1)">Combinations</text>
</g>
<text transform="translate(619.9 351.1) scale(0.95 1)" font-size="10.3" fill="#000" stroke="#000" stroke-width="0.1">Target</text>
<path d="M668.1 342.8L674.7 349.4M668.1 349.4L674.7 342.8" stroke="#000" stroke-width="2.5" stroke-linecap="round" fill="none"/>
</g>
</svg>
</body>
</html>
